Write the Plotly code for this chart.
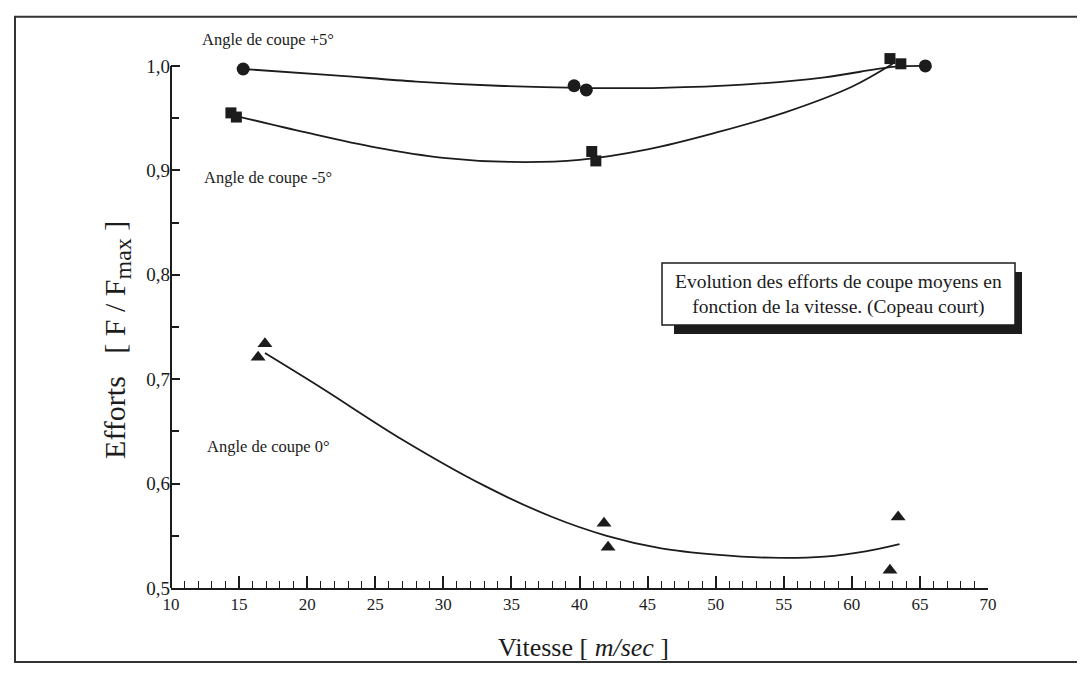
import plotly.graph_objects as go

# ---- data ----
p5_x = [15.3, 39.6, 40.5, 65.4]
p5_y = [0.997, 0.981, 0.977, 1.000]
p5_curve_x = [15.3, 22, 28, 34, 40, 46, 52, 58, 63.0, 65.4]
p5_curve_y = [0.997, 0.991, 0.985, 0.981, 0.979, 0.979, 0.982, 0.989, 0.999, 1.000]

m5_x = [14.4, 14.8, 40.9, 41.2, 62.8, 63.6]
m5_y = [0.955, 0.951, 0.918, 0.909, 1.007, 1.002]
m5_curve_x = [14.8, 20, 25, 30, 35, 40, 45, 50, 55, 60, 63.0]
m5_curve_y = [0.952, 0.936, 0.922, 0.912, 0.908, 0.910, 0.920, 0.936, 0.955, 0.980, 1.002]

z0_x = [16.4, 16.9, 41.8, 42.1, 62.8, 63.4]
z0_y = [0.721, 0.734, 0.562, 0.539, 0.517, 0.568]
z0_curve_x = [16.9, 21, 27, 33, 38, 42, 46, 50, 54, 58, 61, 63.5]
z0_curve_y = [0.725, 0.692, 0.642, 0.598, 0.568, 0.550, 0.538, 0.532, 0.529, 0.530, 0.535, 0.542]

y_ticks = [0.5, 0.6, 0.7, 0.8, 0.9, 1.0]
y_ticktext = ["0,5", "0,6", "0,7", "0,8", "0,9", "1,0"]
x_ticks = [10, 15, 20, 25, 30, 35, 40, 45, 50, 55, 60, 65, 70]

INK = "#1c1c1c"
SERIF = "Liberation Serif, Times New Roman, serif"

fig = go.Figure()

def add_series(cx, cy, px, py, symbol, size):
    fig.add_trace(go.Scatter(x=cx, y=cy, mode="lines",
                             line=dict(color=INK, width=1.8, shape="spline", smoothing=1.0),
                             hoverinfo="skip", showlegend=False, cliponaxis=False))
    fig.add_trace(go.Scatter(x=px, y=py, mode="markers",
                             marker=dict(symbol=symbol, size=size, color=INK,
                                         line=dict(width=0)),
                             showlegend=False, cliponaxis=False))

add_series(p5_curve_x, p5_curve_y, p5_x, p5_y, "circle", 13)
add_series(m5_curve_x, m5_curve_y, m5_x, m5_y, "square", 11)
add_series(z0_curve_x, z0_curve_y, z0_x, z0_y, "triangle-up", 13)

# page body has an 8px margin: work in page pixels and shift by OFF
OFF = 8
W, H = 1085 - OFF, 673 - OFF
Y1_PX, Y05_PX = 66, 588          # page pixel of y=1.0 and y=0.5
YTOP = 1.02                      # a little headroom above 1.0 for the markers
ppu = (Y05_PX - Y1_PX) / 0.5
top_px = Y1_PX - (YTOP - 1.0) * ppu
L, R, T, B = 171 - OFF, W - (988 - OFF), top_px - OFF, H - (Y05_PX - OFF)

fig.update_layout(
    width=W, height=H,
    margin=dict(l=L, r=R, t=T, b=B),
    paper_bgcolor="white", plot_bgcolor="white",
    font=dict(family=SERIF, color=INK),
    xaxis=dict(range=[10, 70], tickvals=x_ticks, showgrid=False, zeroline=False,
               showline=True, linecolor=INK, linewidth=2,
               ticks="inside", ticklen=12, tickwidth=1.5, tickcolor=INK,
               minor=dict(dtick=1, ticks="inside", ticklen=7, tickwidth=1.3, tickcolor=INK),
               tickfont=dict(family=SERIF, size=17, color=INK)),
    yaxis=dict(range=[0.5, YTOP], tickvals=y_ticks, ticktext=y_ticktext,
               showgrid=False, zeroline=False, showline=False,
               ticks="inside", ticklen=9, tickwidth=1.5, tickcolor=INK,
               minor=dict(tickvals=[0.55, 0.65, 0.75, 0.85, 0.95], ticks="inside",
                          ticklen=8, tickwidth=1.5, tickcolor=INK),
               tickfont=dict(family=SERIF, size=19, color=INK)),
)

# y axis line only from 0.5 up to 1.0
fig.add_shape(type="line", xref="paper", yref="y", x0=0, x1=0, y0=0.5, y1=1.0,
              line=dict(color=INK, width=2))

pw = W - L - R
ph = H - T - B
def px_x(p):
    return (p - OFF - L) / pw
def px_y(p):
    return (H - B - (p - OFF)) / ph

# outer frame
fig.add_shape(type="rect", xref="paper", yref="paper",
              x0=px_x(15), x1=px_x(1100), y0=px_y(662), y1=px_y(17),
              line=dict(color="#333333", width=2), fillcolor="rgba(0,0,0,0)", layer="below")

# annotation box with drop shadow
fig.add_shape(type="rect", xref="paper", yref="paper",
              x0=px_x(674), x1=px_x(1022), y0=px_y(334), y1=px_y(272),
              line=dict(width=0), fillcolor=INK, layer="above")
fig.add_shape(type="rect", xref="paper", yref="paper",
              x0=px_x(662), x1=px_x(1015), y0=px_y(325), y1=px_y(263),
              line=dict(color=INK, width=1.5), fillcolor="white", layer="above")
fig.add_annotation(xref="paper", yref="paper", x=px_x(838), y=px_y(295),
                   text="Evolution des efforts de coupe moyens en<br>fonction de la vitesse. (Copeau court)",
                   showarrow=False, font=dict(family=SERIF, size=19.5, color=INK),
                   align="center", xanchor="center", yanchor="middle")

# curve labels
for txt, xl, yl in [("Angle de coupe +5°", 200, 40),
                    ("Angle de coupe -5°", 202, 178),
                    ("Angle de coupe 0°", 205, 447)]:
    fig.add_annotation(xref="paper", yref="paper", x=px_x(xl), y=px_y(yl), text=txt,
                       showarrow=False, xanchor="left", yanchor="middle",
                       font=dict(family=SERIF, size=16.5, color=INK))

# axis titles
fig.add_annotation(xref="paper", yref="paper", x=px_x(583), y=px_y(647),
                   text="Vitesse [ <i>m/sec</i> ]", showarrow=False,
                   xanchor="center", yanchor="middle",
                   font=dict(family=SERIF, size=26, color=INK))
fig.add_annotation(xref="paper", yref="paper", x=px_x(117), y=px_y(340),
                   text="Efforts   [ F / F<sub><span style='font-size:24px'>max</span></sub> ]",
                   showarrow=False, textangle=-90,
                   xanchor="center", yanchor="middle",
                   font=dict(family=SERIF, size=30, color=INK))

fig.write_html("out.html")
